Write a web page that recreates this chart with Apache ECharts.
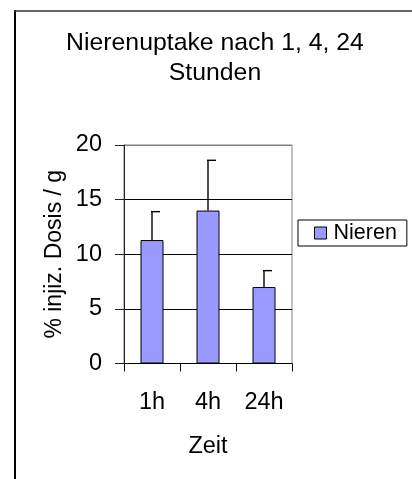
<!DOCTYPE html>
<html>
<head>
<meta charset="utf-8">
<script src="https://cdn.jsdelivr.net/npm/echarts@6/dist/echarts.min.js"></script>
<style>
html, body { margin: 0; padding: 0; background: #fff; }
#chart { width: 412px; height: 479px; }
</style>
</head>
<body>
<div id="chart"></div>
<script>
// data
const categories = ['1h', '4h', '24h'];
const nierenValues = [11.3, 14.0, 7.0];
const errorTops = [13.9, 18.6, 8.5];

const font = '"Liberation Sans", Arial, sans-serif';
const chart = echarts.init(document.getElementById('chart'));

chart.setOption({
  backgroundColor: '#fff',
  animation: false,
  graphic: [
    // outer frame (left + top only, rest is cut off)
    { type: 'line', z: 100, shape: { x1: 15, y1: 10, x2: 15, y2: 479 }, style: { stroke: '#000', lineWidth: 2 } },
    { type: 'line', z: 100, shape: { x1: 14, y1: 11, x2: 412, y2: 11 }, style: { stroke: '#333', lineWidth: 1.5 } },
    // title, centred a bit right of the canvas middle like the original
    {
      type: 'text', x: 215, y: 28, z: 100,
      style: {
        text: 'Nierenuptake nach 1, 4, 24\nStunden',
        fontFamily: font, fontSize: 24.8, fill: '#000',
        align: 'center', verticalAlign: 'top', lineHeight: 30
      }
    }
  ],
  legend: {
    data: ['Nieren'],
    left: 298,
    top: 220,
    orient: 'vertical',
    padding: [2, 10, 2, 16],
    borderColor: '#000',
    borderWidth: 1,
    icon: 'rect',
    itemWidth: 12,
    itemHeight: 12,
    itemStyle: { borderColor: '#000', borderWidth: 1 },
    textStyle: { fontFamily: font, fontSize: 21.5, color: '#000', padding: [0, 0, 0, 2] }
  },
  grid: {
    left: 124, right: 120, top: 145, bottom: 115.5,
    show: true, borderColor: '#808080', borderWidth: 1,
    containLabel: false, outerBoundsMode: 'none'
  },
  xAxis: {
    type: 'category',
    data: categories,
    axisLine: { lineStyle: { color: '#000', width: 1 } },
    axisTick: { show: true, length: 8, lineStyle: { color: '#000' } },
    axisLabel: { margin: 27, fontFamily: font, fontSize: 23.5, color: '#000' },
    name: 'Zeit',
    nameLocation: 'middle',
    nameGap: 71,
    nameTextStyle: { fontFamily: font, fontSize: 23.5, color: '#000' }
  },
  yAxis: {
    type: 'value',
    min: 0, max: 20, interval: 5,
    axisLine: { show: true, lineStyle: { color: '#222' } },
    axisTick: { show: true, length: 9, lineStyle: { color: '#222' } },
    axisLabel: { margin: 22, fontFamily: font, fontSize: 23.5, color: '#000' },
    splitLine: { show: true, lineStyle: { color: ['#000', '#000', '#000', '#000', '#808080'], width: 1 } },
    name: '% injiz. Dosis / g',
    nameLocation: 'middle',
    nameGap: 58,
    nameTextStyle: { fontFamily: font, fontSize: 23, color: '#000' }
  },
  series: [
    {
      name: 'Nieren',
      type: 'bar',
      barWidth: 23,
      itemStyle: { color: '#9999FF', borderColor: '#000', borderWidth: 1 },
      data: nierenValues
    },
    {
      name: 'Fehler',
      type: 'custom',
      z: 5,
      data: categories.map((c, i) => [i, nierenValues[i], errorTops[i]]),
      renderItem: function (params, api) {
        const base = api.coord([api.value(0), api.value(1)]);
        const top = api.coord([api.value(0), api.value(2)]);
        return {
          type: 'group',
          children: [
            { type: 'line', shape: { x1: base[0], y1: base[1], x2: top[0], y2: top[1] }, style: { stroke: '#000', lineWidth: 1.4 } },
            { type: 'line', shape: { x1: top[0] - 1, y1: top[1], x2: top[0] + 8, y2: top[1] }, style: { stroke: '#000', lineWidth: 1.4 } }
          ]
        };
      }
    }
  ]
});
</script>
</body>
</html>
